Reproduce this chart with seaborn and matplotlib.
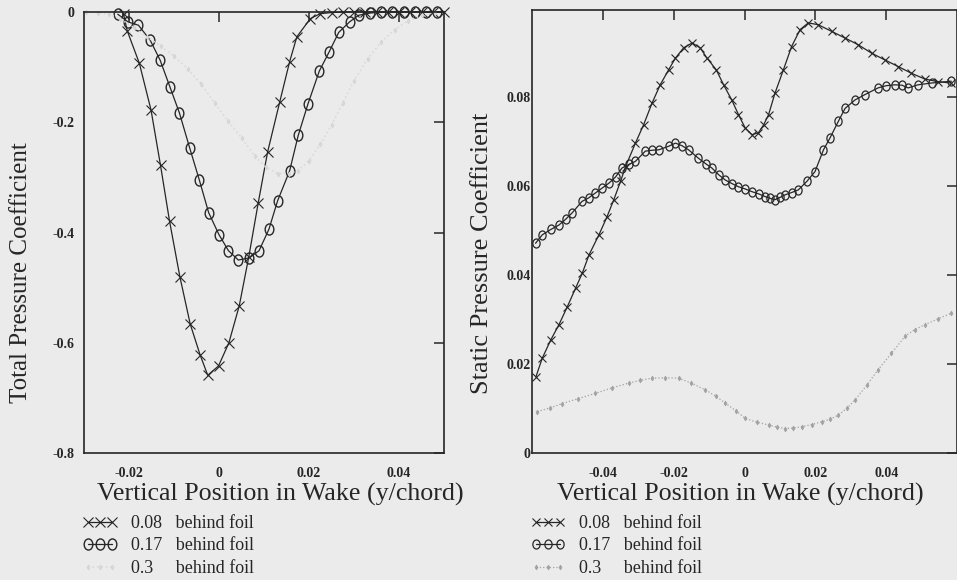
import matplotlib
matplotlib.use("Agg")
import matplotlib.pyplot as plt
from matplotlib.markers import MarkerStyle
from matplotlib.transforms import Affine2D
import seaborn as sns

# ---- Total pressure coefficient vs. vertical wake position ----
tp_y_008 = [-0.0212, -0.0204, -0.0177, -0.0151, -0.0130, -0.0110, -0.0087,
            -0.0064, -0.0042, -0.0025, -0.0001, 0.0022, 0.0045, 0.0066, 0.0087, 0.0108, 0.0135,
            0.0157, 0.0173, 0.0203, 0.0225, 0.0250, 0.0275, 0.0300, 0.0325, 0.0350, 0.0375,
            0.0400, 0.0425, 0.0450, 0.0475, 0.0500]
tp_c_008 = [-0.004, -0.034, -0.093, -0.178, -0.278, -0.379, -0.480,
            -0.566, -0.622, -0.659, -0.642, -0.600, -0.533, -0.445, -0.347, -0.254, -0.163,
            -0.090, -0.045, -0.012, -0.003, -0.001, 0.0, 0.0, 0.0, 0.0, 0.0,
            0.0, 0.0, 0.0, 0.0, 0.0]

tp_y_017 = [-0.0225, -0.0202, -0.0179, -0.0153, -0.0131, -0.0109, -0.0088,
            -0.0065, -0.0044, -0.0023, 0.0000, 0.0021, 0.0043, 0.0067, 0.0089, 0.0111, 0.0130,
            0.0157, 0.0176, 0.0198, 0.0223, 0.0245, 0.0266, 0.0290, 0.0310, 0.0335, 0.0360,
            0.0385, 0.0410, 0.0435, 0.0460, 0.0485]
tp_c_017 = [-0.004, -0.018, -0.024, -0.051, -0.087, -0.136, -0.183,
            -0.247, -0.304, -0.364, -0.404, -0.433, -0.450, -0.446, -0.433, -0.394, -0.343,
            -0.288, -0.224, -0.166, -0.107, -0.072, -0.037, -0.018, -0.006, -0.002, 0.0,
            0.0, 0.0, 0.0, 0.0, 0.0]

tp_y_03 = [-0.0295, -0.0270, -0.0245, -0.0220, -0.0190, -0.0160, -0.0130, -0.0100, -0.0070, -0.0040,
           -0.0010, 0.0020, 0.0050, 0.0080, 0.0105, 0.0130, 0.0155, 0.0175, 0.0200, 0.0225,
           0.0250, 0.0275, 0.0300, 0.0330, 0.0360, 0.0390, 0.0420, 0.0450, 0.0480]
tp_c_03 = [0.0, -0.001, -0.004, -0.012, -0.028, -0.045, -0.062, -0.080, -0.103, -0.130,
           -0.165, -0.198, -0.228, -0.262, -0.282, -0.293, -0.293, -0.288, -0.270, -0.240,
           -0.205, -0.165, -0.125, -0.085, -0.055, -0.032, -0.016, -0.006, -0.001]

# ---- Static pressure coefficient vs. vertical wake position ----
sp_y_008 = [-0.0589, -0.0571, -0.0547, -0.0524, -0.0500, -0.0477, -0.0458, -0.0439, -0.0411, -0.0388,
            -0.0369, -0.0350, -0.0336, -0.0308, -0.0285, -0.0261, -0.0238, -0.0214, -0.0195, -0.0172,
            -0.0148, -0.0125, -0.0106, -0.0080, -0.0059, -0.0036, -0.0017, 0.0002, 0.0021, 0.0039,
            0.0054, 0.0068, 0.0086, 0.0110, 0.0133, 0.0157, 0.0180, 0.0208, 0.0246, 0.0284,
            0.0321, 0.0359, 0.0396, 0.0434, 0.0471, 0.0509, 0.0546, 0.0584]
sp_c_008 = [0.0171, 0.0213, 0.0254, 0.0288, 0.0329, 0.0370, 0.0404, 0.0445, 0.0490, 0.0531,
            0.0569, 0.0610, 0.0643, 0.0696, 0.0737, 0.0786, 0.0827, 0.0861, 0.0887, 0.0910,
            0.0921, 0.0910, 0.0887, 0.0861, 0.0827, 0.0793, 0.0760, 0.0730, 0.0715, 0.0719,
            0.0737, 0.0760, 0.0808, 0.0861, 0.0913, 0.0951, 0.0966, 0.0962, 0.0947, 0.0932,
            0.0917, 0.0898, 0.0883, 0.0868, 0.0853, 0.0840, 0.0834, 0.0831]

sp_y_017 = [-0.0590, -0.0571, -0.0547, -0.0524, -0.0505, -0.0487, -0.0459, -0.0440, -0.0421, -0.0402,
            -0.0383, -0.0364, -0.0346, -0.0327, -0.0308, -0.0280, -0.0261, -0.0242, -0.0214, -0.0195,
            -0.0176, -0.0158, -0.0130, -0.0110, -0.0092, -0.0073, -0.0054, -0.0035, -0.0017, 0.0002,
            0.0021, 0.0040, 0.0058, 0.0072, 0.0086, 0.0100, 0.0115, 0.0133, 0.0152, 0.0176,
            0.0199, 0.0223, 0.0241, 0.0265, 0.0284, 0.0312, 0.0340, 0.0377, 0.0400, 0.0425,
            0.0445, 0.0462, 0.0490, 0.0528, 0.0584]
sp_c_017 = [0.0471, 0.0490, 0.0502, 0.0512, 0.0525, 0.0539, 0.0565, 0.0573, 0.0584, 0.0595,
            0.0606, 0.0620, 0.0640, 0.0648, 0.0655, 0.0678, 0.0680, 0.0681, 0.0689, 0.0696,
            0.0690, 0.0681, 0.0662, 0.0650, 0.0640, 0.0625, 0.0613, 0.0605, 0.0598, 0.0593,
            0.0587, 0.0582, 0.0576, 0.0572, 0.0569, 0.0574, 0.0580, 0.0585, 0.0591, 0.0610,
            0.0632, 0.0681, 0.0707, 0.0745, 0.0774, 0.0793, 0.0805, 0.0820, 0.0825, 0.0827,
            0.0826, 0.0820, 0.0827, 0.0831, 0.0835]

sp_y_03 = [-0.0585, -0.0550, -0.0515, -0.0470, -0.0421, -0.0375, -0.0327, -0.0295, -0.0261, -0.0225,
           -0.0186, -0.0150, -0.0111, -0.0080, -0.0054, -0.0025, 0.0002, 0.0035, 0.0068, 0.0093,
           0.0115, 0.0138, 0.0161, 0.0190, 0.0218, 0.0242, 0.0265, 0.0290, 0.0312, 0.0345,
           0.0377, 0.0415, 0.0453, 0.0480, 0.0509, 0.0545, 0.0584]
sp_c_03 = [0.0093, 0.0101, 0.0111, 0.0122, 0.0134, 0.0146, 0.0157, 0.0163, 0.0168, 0.0169,
           0.0168, 0.0157, 0.0142, 0.0127, 0.0112, 0.0095, 0.0078, 0.0069, 0.0063, 0.0058,
           0.0055, 0.0056, 0.0059, 0.0064, 0.0070, 0.0076, 0.0085, 0.0101, 0.0119, 0.0152,
           0.0187, 0.0224, 0.0262, 0.0277, 0.0288, 0.0301, 0.0314]

series_labels = ["0.08   behind foil", "0.17   behind foil", "0.3     behind foil"]

tp_xticks = [-0.02, 0.0, 0.02, 0.04]
tp_xticklabels = ["-0.02", "0", "0.02", "0.04"]
tp_yticks = [0.0, -0.2, -0.4, -0.6, -0.8]
tp_yticklabels = ["0", "-0.2", "-0.4", "-0.6", "-0.8"]

sp_xticks = [-0.04, -0.02, 0.0, 0.02, 0.04]
sp_xticklabels = ["-0.04", "-0.02", "0", "0.02", "0.04"]
sp_yticks = [0.0, 0.02, 0.04, 0.06, 0.08]
sp_yticklabels = ["0", "0.02", "0.04", "0.06", "0.08"]

BG = "#ebebeb"
INK = "#262626"

sns.set_theme(style="white", rc={"axes.facecolor": BG, "figure.facecolor": BG,
                                 "axes.edgecolor": INK})
plt.rcParams["font.family"] = ["Liberation Serif", "DejaVu Serif"]
plt.rcParams["axes.unicode_minus"] = False

fig = plt.figure(figsize=(9.57, 5.8), dpi=100)
axL = fig.add_axes([84 / 957, 1 - 453 / 580, 360 / 957, 441 / 580])
axR = fig.add_axes([532 / 957, 1 - 453 / 580, 425 / 957, 443 / 580])

ell_big = MarkerStyle("o", transform=Affine2D().scale(0.78, 1.0))
ell_small = MarkerStyle("o", transform=Affine2D().scale(0.8, 1.0))


def trace(ax, x, y, **kw):
    sns.lineplot(x=x, y=y, ax=ax, sort=False, estimator=None, clip_on=False, **kw)


# left panel
trace(axL, tp_y_008, tp_c_008, color=INK, lw=0.9, marker="x", markersize=7,
      markeredgecolor=INK, markeredgewidth=0.8, label=series_labels[0])
trace(axL, tp_y_017, tp_c_017, color=INK, lw=0.9, marker=ell_big, markersize=8,
      markerfacecolor="none", markeredgecolor=INK, markeredgewidth=1.0, label=series_labels[1])
trace(axL, tp_y_03, tp_c_03, color="#dadada", lw=1.2, ls=":", marker="d", markersize=2.5,
      markeredgecolor="#d2d2d2", markeredgewidth=0.5, label=series_labels[2])

# right panel
trace(axR, sp_y_008, sp_c_008, color=INK, lw=0.9, marker="x", markersize=6,
      markeredgecolor=INK, markeredgewidth=0.8, label=series_labels[0])
trace(axR, sp_y_017, sp_c_017, color=INK, lw=0.9, marker=ell_small, markersize=6.5,
      markerfacecolor="none", markeredgecolor=INK, markeredgewidth=0.9, label=series_labels[1])
trace(axR, sp_y_03, sp_c_03, color="#a2a2a2", lw=0.9, ls=":", marker="d", markersize=2.5,
      markeredgecolor="#a2a2a2", markeredgewidth=0.5, label=series_labels[2])

panels = [
    (axL, (-0.03, 0.05), (-0.8, 0.0), tp_xticks, tp_xticklabels, tp_yticks, tp_yticklabels,
     "Total Pressure Coefficient", 18, 7, 84, 0.544),
    (axR, (-0.06, 0.06), (0.0, 0.0995), sp_xticks, sp_xticklabels, sp_yticks, sp_yticklabels,
     "Static Pressure Coefficient", 19, 1, 532, 0.489),
]

for ax, xl, yl, xt, xtl, yt, ytl, ylab, yfs, ypad, x0, xlab_x in panels:
    ax.set_xlim(*xl)
    ax.set_ylim(*yl)
    ax.set_xticks(xt)
    ax.set_xticklabels(xtl, fontsize=10, fontweight="bold", color=INK)
    ax.set_yticks(yt)
    ax.set_yticklabels(ytl, fontsize=10, fontweight="bold", color=INK)
    ax.tick_params(axis="both", direction="in", length=7, width=1.1, color=INK,
                   top=True, right=True)
    ax.tick_params(axis="x", pad=10)
    ax.tick_params(axis="y", pad=ypad)
    for s in ax.spines.values():
        s.set_linewidth(1.2)
        s.set_color(INK)
    ax.set_xlabel("Vertical Position in Wake (y/chord)", fontsize=18.7, color=INK, labelpad=2)
    ax.xaxis.label.set_x(xlab_x)
    ax.set_ylabel(ylab, fontsize=yfs, color=INK)
    leg = ax.legend(loc="upper left", bbox_to_anchor=((x0 - 1) / 957, 1 - 515 / 580),
                    bbox_transform=fig.transFigure, frameon=False, fontsize=13,
                    numpoints=3, handlelength=1.9, handletextpad=0.75, labelspacing=0.3,
                    borderpad=0, borderaxespad=0)
    for t in leg.get_texts():
        t.set_color(INK)

axL.yaxis.set_label_coords(-0.145, 0.41)
axR.yaxis.set_label_coords(-0.092, 0.451)

fig.savefig("out.png", dpi=100, facecolor=BG)
